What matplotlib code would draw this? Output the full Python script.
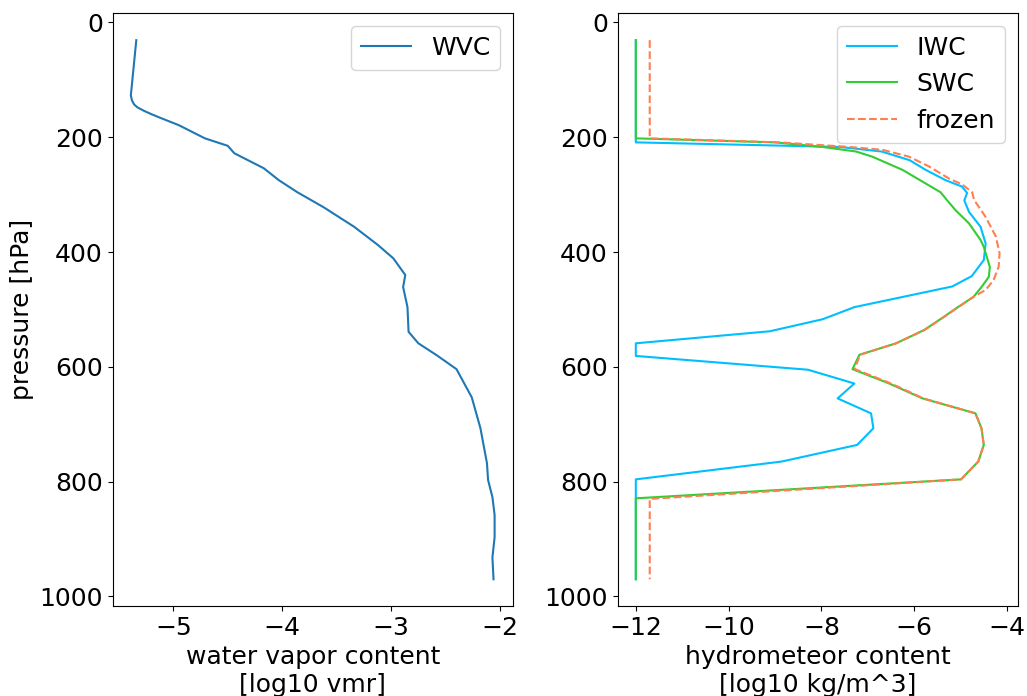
"""
Water vapour and hydrometeor content profiles against pressure.
"""

import numpy as np
import matplotlib
matplotlib.use("Agg")
import matplotlib.pyplot as plt


# ==================== 1. Profile data ====================

# water vapour content [log10 vmr]
wvc_pressure = [31, 127, 136, 143, 148, 154, 160, 167, 179, 202, 215, 228, 254,
                275, 296, 322, 356, 388, 411, 440, 461, 496, 539, 559, 580,
                604, 653, 707, 768, 797, 827, 858, 897, 932, 970]
wvc = [-5.34, -5.39, -5.38, -5.36, -5.33, -5.27, -5.20, -5.11, -4.95, -4.71,
       -4.50, -4.44, -4.17, -4.03, -3.86, -3.62, -3.34, -3.12, -2.98, -2.87,
       -2.89, -2.85, -2.84, -2.75, -2.58, -2.40, -2.26, -2.18, -2.12, -2.11,
       -2.07, -2.05, -2.05, -2.07, -2.06]

# ice water content [log10 kg/m^3]
iwc_pressure = [31, 209, 217, 225, 240, 257, 275, 286, 297, 310, 330, 356, 385,
                414, 442, 460, 496, 517, 538, 559, 581, 605, 629, 655, 681,
                707, 736, 765, 796, 970]
iwc = [-12.0, -12.0, -7.6, -6.7, -6.1, -5.75, -5.32, -4.97, -4.86, -4.92,
       -4.82, -4.57, -4.46, -4.50, -4.76, -5.18, -7.29, -7.97, -9.11, -12.0,
       -12.0, -8.29, -7.29, -7.65, -6.93, -6.88, -7.23, -8.86, -12.0, -12.0]

# snow water content [log10 kg/m^3]
swc_pressure = [31, 202, 209, 217, 225, 234, 257, 276, 296, 309, 327, 350, 379,
                391, 426, 443, 460, 478, 495, 515, 536, 559, 579, 604, 629,
                655, 681, 707, 736, 765, 796, 829, 970]
swc = [-12.0, -12.0, -9.0, -7.97, -7.25, -6.90, -6.25, -5.85, -5.43, -5.30,
       -5.11, -4.82, -4.57, -4.50, -4.37, -4.39, -4.54, -4.72, -5.04, -5.40,
       -5.79, -6.39, -7.18, -7.33, -6.54, -5.82, -4.68, -4.55, -4.50, -4.62,
       -4.99, -12.0, -12.0]

# total frozen content [log10 kg/m^3]
frozen_pressure = [31, 202, 209, 217, 222, 234, 251, 272, 282, 296, 309, 339,
                   373, 402, 426, 449, 466, 478, 495, 515, 536, 559, 579, 604,
                   629, 655, 681, 707, 736, 765, 796, 830, 970]
frozen = [-11.70, -11.70, -8.9, -7.4, -6.68, -6.11, -5.68, -5.25, -4.97, -4.75,
          -4.71, -4.46, -4.24, -4.16, -4.18, -4.29, -4.46, -4.72, -5.03, -5.39,
          -5.78, -6.39, -7.17, -7.28, -6.50, -5.80, -4.68, -4.55, -4.50, -4.62,
          -4.99, -11.70, -11.70]


# ==================== 2. Plot ====================

plt.rcParams.update({
    "font.family": "DejaVu Sans",
    "font.size": 18,
})

fig, (ax1, ax2) = plt.subplots(1, 2, figsize=(10.27, 6.96), dpi=100)
fig.subplots_adjust(left=0.1097, right=0.991, bottom=0.129, top=0.981,
                    wspace=0.262)

# ---------- 2.1 water vapour ----------
ax1.plot(wvc, wvc_pressure, color="#1f77b4", label="WVC")
ax1.invert_yaxis()
ax1.set_yticks([0, 200, 400, 600, 800, 1000])
ax1.set_xticks([-5, -4, -3, -2])
ax1.set_ylabel("pressure [hPa]")
ax1.set_xlabel("water vapor content\n[log10 vmr]")
ax1.legend(loc="upper right")

# ---------- 2.2 hydrometeors ----------
ax2.plot(iwc, iwc_pressure, color="deepskyblue", label="IWC")
ax2.plot(swc, swc_pressure, color="limegreen", label="SWC")
ax2.plot(frozen, frozen_pressure, color="coral", linestyle="--", label="frozen")
ax2.invert_yaxis()
ax2.set_yticks([0, 200, 400, 600, 800, 1000])
ax2.set_xticks([-12, -10, -8, -6, -4])
ax2.set_xlabel("hydrometeor content\n[log10 kg/m^3]")
ax2.legend(loc="upper right")

fig.savefig("out.png", dpi=100)
plt.close(fig)
